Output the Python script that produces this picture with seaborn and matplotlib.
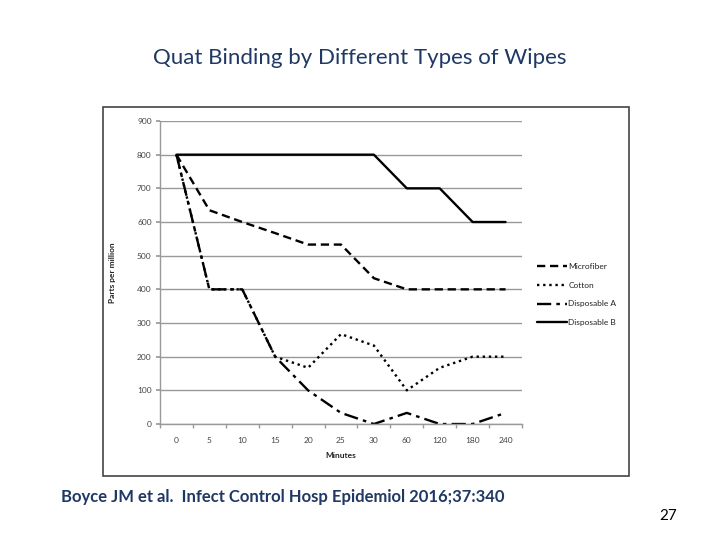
import pandas as pd
import matplotlib.pyplot as plt
import matplotlib.patches as mpatches
import seaborn as sns

# data
minutes = ["0", "5", "10", "15", "20", "25", "30", "60", "120", "180", "240"]
microfiber = [800, 635, 600, 567, 533, 533, 433, 400, 400, 400, 400]
cotton = [800, 400, 400, 200, 167, 267, 233, 100, 167, 200, 200]
disposable_a = [800, 400, 400, 200, 100, 33, 0, 33, 0, 0, 33]
disposable_b = [800, 800, 800, 800, 800, 800, 800, 700, 700, 600, 600]
series_names = ["Microfiber", "Cotton", "Disposable A", "Disposable B"]
y_ticks = [0, 100, 200, 300, 400, 500, 600, 700, 800, 900]

rows = []
for name, vals in zip(series_names, [microfiber, cotton, disposable_a, disposable_b]):
    for m, v in zip(minutes, vals):
        rows.append({"Minutes": m, "ppm": v, "Wipe": name})
df = pd.DataFrame(rows)

sns.set_theme(style="white")
plt.rcParams['font.family'] = ['Lato', 'DejaVu Sans']

fig = plt.figure(figsize=(7.2, 5.4), dpi=100)
fig.patch.set_facecolor('white')

# frame around the embedded chart
box = mpatches.Rectangle((0.143, 0.1185), 0.7306, 0.683, transform=fig.transFigure,
                         fill=False, edgecolor='#444444', linewidth=1.2)
fig.patches.append(box)

ax = fig.add_axes([0.2222, 0.2148, 0.5028, 0.5611])

dash_map = {
    "Microfiber": (3.5, 2),
    "Cotton": (1, 1.6),
    "Disposable A": (6, 2.2, 1.5, 2.2),
    "Disposable B": "",
}
sns.lineplot(data=df, x="Minutes", y="ppm", hue="Wipe", style="Wipe",
             palette=["black"] * 4, dashes=dash_map, hue_order=series_names,
             style_order=series_names, linewidth=1.7, sort=False, ax=ax)

ax.set_xlim(-0.5, len(minutes) - 0.5)
ax.set_ylim(0, 900)
ax.set_yticks(y_ticks)
ax.set_xticks(range(len(minutes)))
ax.set_xticklabels(minutes)
ax.set_xticks([i - 0.5 for i in range(len(minutes) + 1)], minor=True)
ax.grid(axis='y', color='#999999', linewidth=1)
ax.set_axisbelow(True)

for side in ['top', 'right']:
    ax.spines[side].set_visible(False)
for side in ['left', 'bottom']:
    ax.spines[side].set_color('#999999')
    ax.spines[side].set_linewidth(1)

ax.tick_params(axis='x', which='major', length=0, labelsize=6, colors='#444444', pad=9)
ax.tick_params(axis='x', which='minor', length=3, color='#999999', direction='out', bottom=True)
ax.tick_params(axis='y', length=3, color='#999999', direction='out', left=True,
               labelsize=6, colors='#444444', pad=3)

ax.set_xlabel("Minutes", fontsize=6, fontweight='bold', color='#222222', labelpad=6)
ax.set_ylabel("Parts per million", fontsize=6, fontweight='bold', color='#222222', labelpad=15)

leg = ax.legend(loc='center left', bbox_to_anchor=(1.02, 0.427), frameon=False,
                fontsize=6, handlelength=3.6, handletextpad=0.2, labelspacing=1.4)
for t in leg.get_texts():
    t.set_color('#222222')

fig.text(0.5, 0.892, "Quat Binding by Different Types of Wipes", ha='center', va='center',
         fontsize=16, color='#1F3864')
fig.text(0.085, 0.08, "Boyce JM et al.  Infect Control Hosp Epidemiol 2016;37:340",
         ha='left', va='center', fontsize=12, fontweight='bold', color='#1F3864')
fig.text(0.915, 0.044, "27", ha='left', va='center', fontsize=11, color='black')

fig.savefig("out.png", dpi=100, facecolor='white')
plt.close(fig)
